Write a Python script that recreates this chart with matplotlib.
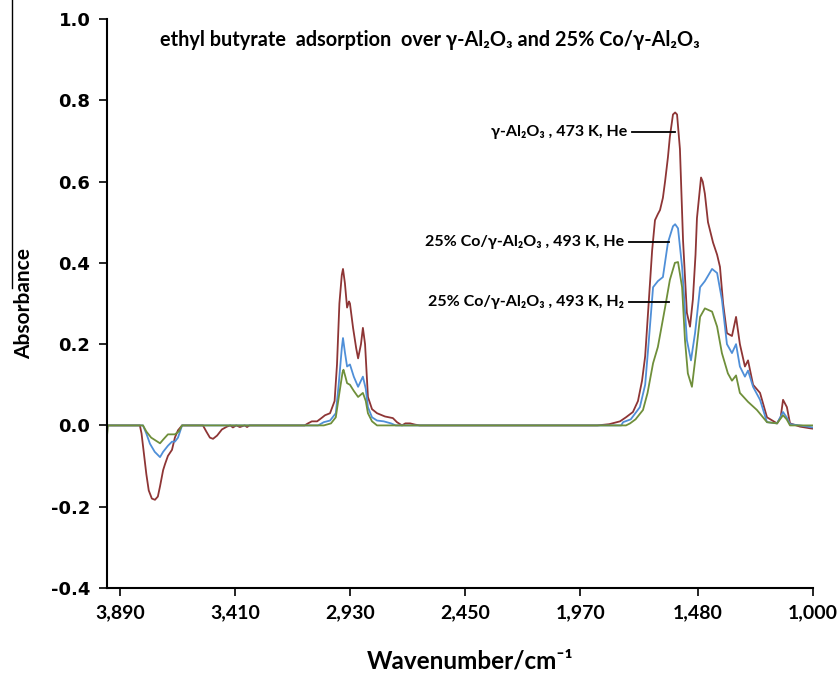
import matplotlib
matplotlib.use("Agg")
import matplotlib.pyplot as plt
from matplotlib.lines import Line2D

# spectra (wavenumber, absorbance)
wn_he_al = [3944, 3807, 3800, 3790, 3780, 3770, 3757, 3744, 3732, 3723, 3710, 3702, 3690, 3673,
            3661, 3648, 3631, 3544, 3530, 3515, 3502, 3485, 3465, 3444, 3430, 3419, 3405, 3390,
            3370, 3360, 3350, 3120, 3106, 3090, 3068, 3050, 3035, 3014, 2995, 2985, 2975, 2965,
            2960, 2952, 2943, 2935, 2931, 2918, 2905, 2897, 2885, 2877, 2868, 2856, 2839, 2818,
            2785, 2752, 2735, 2714, 2700, 2680, 2660, 2640, 1900, 1850, 1805, 1780, 1751, 1730,
            1713, 1700, 1688, 1671, 1659, 1647, 1638, 1626, 1617, 1605, 1597, 1584, 1575, 1567,
            1555, 1542, 1526, 1513, 1501, 1490, 1484, 1467, 1460, 1451, 1438, 1417, 1400, 1388,
            1375, 1359, 1338, 1321, 1305, 1284, 1271, 1250, 1221, 1192, 1150, 1135, 1125, 1109,
            1096, 1054, 1013, 1000]
ab_he_al = [0, 0, -0.02, -0.07, -0.12, -0.16, -0.18, -0.183, -0.175, -0.15, -0.11, -0.095, -0.075,
            -0.06, -0.03, -0.012, 0, 0, -0.015, -0.03, -0.033, -0.025, -0.01, -0.003, 0, -0.005,
            0, -0.004, 0, -0.004, 0, 0, 0.005, 0.01, 0.01, 0.018, 0.025, 0.03, 0.06, 0.15, 0.3,
            0.37, 0.385, 0.35, 0.29, 0.305, 0.30, 0.24, 0.19, 0.165, 0.2, 0.24, 0.2, 0.07, 0.04,
            0.03, 0.022, 0.018, 0.008, 0, 0.005, 0.005, 0.002, 0, 0, 0.003, 0.01, 0.02, 0.033,
            0.06, 0.11, 0.17, 0.277, 0.43, 0.505, 0.52, 0.53, 0.56, 0.60, 0.66, 0.71, 0.765, 0.77,
            0.765, 0.68, 0.455, 0.277, 0.243, 0.31, 0.42, 0.51, 0.61, 0.60, 0.57, 0.50, 0.45,
            0.42, 0.39, 0.30, 0.227, 0.22, 0.267, 0.20, 0.145, 0.16, 0.10, 0.08, 0.02, 0.005,
            0.02, 0.063, 0.045, 0.005, -0.003, -0.007, -0.008]

wn_he_co = [3944, 3794, 3780, 3765, 3745, 3723, 3710, 3690, 3673, 3661, 3648, 3631, 3064, 3040,
            3014, 2990, 2978, 2965, 2960, 2952, 2943, 2931, 2915, 2897, 2877, 2865, 2856, 2839,
            2818, 2790, 2760, 2740, 1800, 1792, 1760, 1722, 1700, 1688, 1667, 1647, 1626, 1605,
            1584, 1575, 1563, 1546, 1526, 1509, 1492, 1471, 1451, 1421, 1400, 1380, 1359, 1338,
            1321, 1305, 1284, 1271, 1250, 1221, 1192, 1150, 1125, 1110, 1096, 1054, 1000]
ab_he_co = [0, 0, -0.02, -0.045, -0.065, -0.078, -0.065, -0.05, -0.04, -0.04, -0.03, 0, 0, 0.008,
            0.012, 0.03, 0.1, 0.19, 0.215, 0.18, 0.145, 0.15, 0.12, 0.095, 0.12, 0.09, 0.045,
            0.02, 0.012, 0.01, 0.005, 0, 0, 0.008, 0.015, 0.045, 0.1, 0.185, 0.34, 0.355, 0.365,
            0.45, 0.49, 0.495, 0.485, 0.39, 0.21, 0.16, 0.227, 0.34, 0.355, 0.385, 0.375, 0.31,
            0.20, 0.178, 0.20, 0.145, 0.12, 0.135, 0.095, 0.063, 0.008, 0.005, 0.033, 0.02,
            0.003, 0, -0.005]

wn_h2_co = [3944, 3940, 3794, 3780, 3760, 3723, 3710, 3690, 3661, 3645, 3631, 3040, 3010, 2990,
            2975, 2962, 2958, 2950, 2943, 2931, 2915, 2897, 2877, 2865, 2856, 2839, 2818, 1780,
            1763, 1740, 1709, 1690, 1667, 1647, 1617, 1597, 1576, 1563, 1546, 1534, 1522, 1505,
            1488, 1471, 1451, 1421, 1400, 1380, 1355, 1338, 1321, 1305, 1271, 1234, 1192, 1150,
            1125, 1110, 1096, 1000]
ab_h2_co = [-0.025, 0, 0, -0.015, -0.03, -0.044, -0.035, -0.022, -0.022, -0.015, 0, 0, 0.005,
            0.02, 0.08, 0.13, 0.137, 0.12, 0.104, 0.1, 0.085, 0.07, 0.08, 0.06, 0.03, 0.01, 0,
            0, 0.005, 0.015, 0.038, 0.08, 0.153, 0.193, 0.29, 0.358, 0.40, 0.402, 0.34, 0.21,
            0.128, 0.095, 0.178, 0.267, 0.288, 0.28, 0.243, 0.178, 0.128, 0.11, 0.123, 0.08,
            0.058, 0.038, 0.008, 0.005, 0.025, 0.015, 0, 0]

xticks = [3890, 3410, 2930, 2450, 1970, 1480, 1000]
xtick_labels = ["3,890", "3,410", "2,930", "2,450", "1,970", "1,480", "1,000"]
yticks = [-0.4, -0.2, 0.0, 0.2, 0.4, 0.6, 0.8, 1.0]

txt_font = ["Lato", "DejaVu Sans"]

fig = plt.figure(figsize=(8.38, 6.76), dpi=100)
ax = fig.add_axes([0.1277, 0.1302, 0.8425, 0.8417])

ax.plot(wn_he_al, ab_he_al, color="#8e3535", lw=1.3)
ax.plot(wn_he_co, ab_he_co, color="#4f8fd8", lw=1.3)
ax.plot(wn_h2_co, ab_h2_co, color="#6f8f3a", lw=1.3)

ax.set_xlim(3944, 1000)
ax.set_ylim(-0.4, 1.0)
ax.set_xticks(xticks)
ax.set_xticklabels(xtick_labels, fontfamily=txt_font, fontweight="bold", fontsize=14)
ax.set_yticks(yticks)
ax.set_yticklabels([f"{v:.1f}" for v in yticks], fontfamily="DejaVu Sans",
                   fontweight="bold", fontsize=13)
ax.tick_params(direction="out", length=6, width=1.2, pad=6)

for s in ["top", "right"]:
    ax.spines[s].set_visible(False)
for s in ["left", "bottom"]:
    ax.spines[s].set_linewidth(1.5)

ax.set_xlabel("Wavenumber/cm⁻¹", fontfamily=txt_font, fontweight="bold", fontsize=17.5,
              va="center")
ax.xaxis.set_label_coords(0.514, -0.128)
ax.set_ylabel("Absorbance", fontfamily=txt_font, fontweight="bold", fontsize=15, labelpad=12)

ax.text(0.457, 0.963, "ethyl butyrate  adsorption  over γ-Al₂O₃ and 25% Co/γ-Al₂O₃",
        transform=ax.transAxes, ha="center", va="center",
        fontfamily=txt_font, fontweight="bold", fontsize=14.3)

# labels with leader lines
labels = ["γ-Al₂O₃ , 473 K, He", "25% Co/γ-Al₂O₃ , 493 K, He", "25% Co/γ-Al₂O₃ , 493 K, H₂"]
label_y = [0.722, 0.451, 0.304]
line_x = [(1755, 1576), (1767, 1600), (1767, 1600)]
text_x = [1776, 1788, 1788]
for lab, yy, (x0, x1), tx in zip(labels, label_y, line_x, text_x):
    ax.plot([x0, x1], [yy, yy], color="black", lw=1.3)
    ax.text(tx, yy, lab, ha="right", va="center", fontfamily=txt_font,
            fontweight="bold", fontsize=11.5)

# stray frame line at the left edge of the original
fig.add_artist(Line2D([12 / 838, 12 / 838], [1.0, 1 - 288 / 676], color="black", lw=1.0))

fig.savefig("out.png", dpi=100)
